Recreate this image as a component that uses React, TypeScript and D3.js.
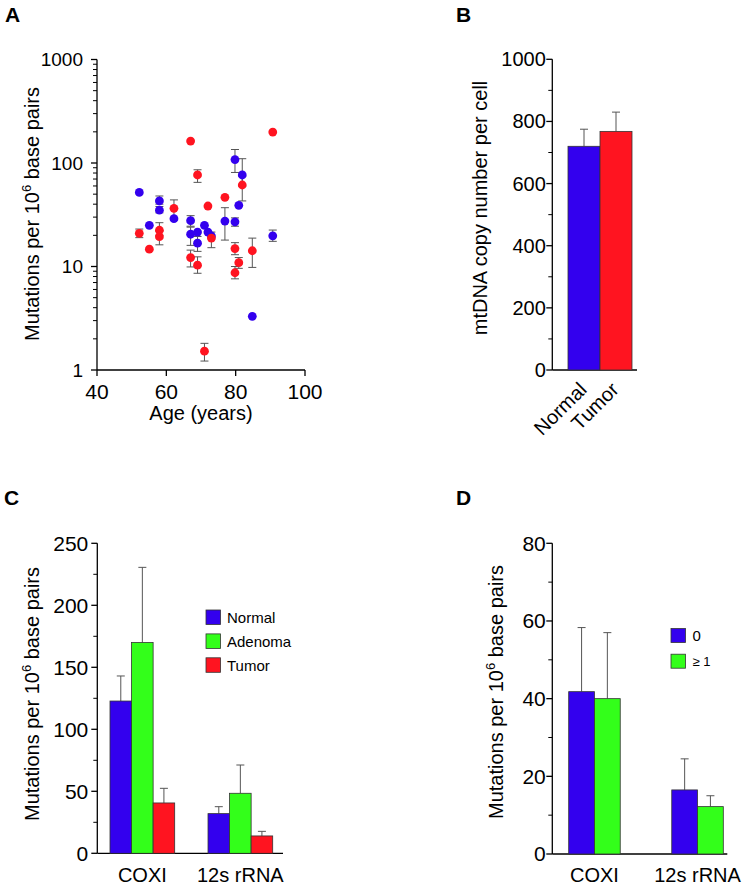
import React from "react";
import * as d3 from "d3";

// ---------- Panel A data ----------
const normalAge = [52.2, 55.1, 58, 58, 62.2, 67, 67, 69, 69, 71, 72, 73, 76.9, 79.8, 80.9, 79.8, 81.9, 84.8, 90.7];
const normalMut = [52, 25, 43, 35, 29, 27.7, 20.5, 21.5, 16.8, 25, 21.5, 19.7, 27.5, 27, 39, 108, 76.6, 3.3, 19.8];
const normalLo = [null, null, 40, 33, null, 24.5, 16, null, 14, null, null, null, 18, 24.5, null, 81, 60, null, 17.5];
const normalHi = [null, null, 48, 38, null, 31, 24, null, 19.5, null, null, null, 37, 29.5, null, 135, 110, null, 22.5];

const tumorAge = [52.2, 55.1, 58, 58, 62.2, 67, 67, 69, 69, 71, 72, 73, 76.9, 79.8, 79.8, 80.9, 81.9, 84.8, 90.7];
const tumorMut = [20.9, 14.7, 22.4, 19.4, 36.5, 12.2, 163, 10.3, 76.6, 1.52, 38.4, 18.8, 46.6, 14.9, 8.7, 10.9, 61.3, 14.2, 199];
const tumorLo = [19, null, 20, 16.2, 28.5, 9.9, null, 8.6, 65, 1.22, null, 15.2, null, 13, 7.6, 9.6, 43, 9.8, null];
const tumorHi = [23, null, 26.5, 22, 44, 14.4, null, 12.4, 86, 1.81, null, 21.5, null, 17, 10, 12.2, 75, 18.8, null];

const ageTicks = [40, 60, 80, 100];
const logTicks = [1, 10, 100, 1000];

// ---------- Panel B data ----------
const copyGroups = ["Normal", "Tumor"];
const copyMean = [720, 768];
const copyErr = [775, 830];
const copyTicks = [0, 200, 400, 600, 800, 1000];

// ---------- Panel C data ----------
const genes = ["COXI", "12s rRNA"];
const tissueGroups = ["Normal", "Adenoma", "Tumor"];
const cNormal = [122.8, 32];
const cAdenoma = [170, 48.4];
const cTumor = [40.6, 14];
const cNormalErr = [143, 37.6];
const cAdenomaErr = [230.6, 71.2];
const cTumorErr = [52.4, 17.7];
const cTicks = [0, 50, 100, 150, 200, 250];

// ---------- Panel D data ----------
const dGroups = ["0", "\u2265 1"];
const dZero = [41.8, 16.5];
const dOne = [40, 12.2];
const dZeroErr = [58.3, 24.5];
const dOneErr = [57, 15];
const dTicks = [0, 20, 40, 60, 80];

const BLUE = "#3300ee";
const RED = "#ff1420";
const GREEN = "#33ff1a";
const ERR = "#555";
const FONT = "'Liberation Sans', Arial, sans-serif";

function MutLabel({ x, y }: { x: number; y: number }) {
  return (
    <text transform={`translate(${x},${y}) rotate(-90)`} textAnchor="middle" fontSize={20} fontFamily={FONT}>
      Mutations per 10
      <tspan fontSize={13} dy={-8}>6</tspan>
      <tspan dy={8}> base pairs</tspan>
    </text>
  );
}

function YAxisLinear({ scale, x, ticks, minor, fs, gap }: { scale: any; x: number; ticks: number[]; minor: number[]; fs: number; gap: number }) {
  const [r0, r1] = scale.range();
  return (
    <g>
      <line x1={x} x2={x} y1={r0} y2={r1} stroke="#000" strokeWidth={1.3} />
      {minor.map((t) => (
        <line key={"m" + t} x1={x - 4} x2={x} y1={scale(t)} y2={scale(t)} stroke="#000" strokeWidth={1} />
      ))}
      {ticks.map((t) => (
        <g key={t}>
          <line x1={x - 6} x2={x} y1={scale(t)} y2={scale(t)} stroke="#000" strokeWidth={1.3} />
          <text x={x - gap} y={scale(t)} dy="0.35em" textAnchor="end" fontSize={fs} fontFamily={FONT}>
            {t}
          </text>
        </g>
      ))}
    </g>
  );
}

function ErrUp({ x, y0, y1 }: { x: number; y0: number; y1: number }) {
  return (
    <g stroke={ERR} strokeWidth={1}>
      <line x1={x} x2={x} y1={y0} y2={y1} />
      <line x1={x - 4} x2={x + 4} y1={y1} y2={y1} />
    </g>
  );
}

function PanelA() {
  const x = d3.scaleLinear().domain([40, 100]).range([97, 305]);
  const y = d3.scaleLog().domain([1, 1000]).range([370, 59.5]);
  const minor: number[] = [];
  [1, 10, 100].forEach((d) => {
    for (let k = 2; k <= 9; k++) minor.push(d * k);
  });
  const series = [
    { age: normalAge, v: normalMut, lo: normalLo, hi: normalHi, c: BLUE },
    { age: tumorAge, v: tumorMut, lo: tumorLo, hi: tumorHi, c: RED },
  ];
  return (
    <g>
      <text x={5} y={22} fontSize={21} fontWeight="bold" fontFamily={FONT}>A</text>
      <line x1={97} x2={97} y1={59.5} y2={370} stroke="#000" strokeWidth={1.3} />
      <line x1={97} x2={305} y1={370} y2={370} stroke="#000" strokeWidth={1.3} />
      {minor.map((t) => (
        <line key={"m" + t} x1={93} x2={97} y1={y(t)} y2={y(t)} stroke="#000" strokeWidth={1} />
      ))}
      {logTicks.map((t) => (
        <g key={t}>
          <line x1={91} x2={97} y1={y(t)} y2={y(t)} stroke="#000" strokeWidth={1.3} />
          <text x={83} y={y(t)} dy="0.35em" textAnchor="end" fontSize={19} fontFamily={FONT}>{t}</text>
        </g>
      ))}
      {ageTicks.map((t) => (
        <g key={t}>
          <line x1={x(t)} x2={x(t)} y1={370} y2={376} stroke="#000" strokeWidth={1.3} />
          <text x={x(t)} y={399} textAnchor="middle" fontSize={21} fontFamily={FONT}>{t}</text>
        </g>
      ))}
      <text x={201} y={420} textAnchor="middle" fontSize={20} fontFamily={FONT}>Age (years)</text>
      <MutLabel x={39} y={214} />
      {series.map((s, si) => (
        <g key={"e" + si} stroke={ERR} strokeWidth={1}>
          {s.age.map((a, i) =>
            s.lo[i] != null ? (
              <g key={i}>
                <line x1={x(a)} x2={x(a)} y1={y(s.lo[i] as number)} y2={y(s.hi[i] as number)} />
                <line x1={x(a) - 4} x2={x(a) + 4} y1={y(s.lo[i] as number)} y2={y(s.lo[i] as number)} />
                <line x1={x(a) - 4} x2={x(a) + 4} y1={y(s.hi[i] as number)} y2={y(s.hi[i] as number)} />
              </g>
            ) : null
          )}
        </g>
      ))}
      {series.map((s, si) => (
        <g key={"p" + si}>
          {s.age.map((a, i) => (
            <circle key={i} cx={x(a)} cy={y(s.v[i])} r={4.4} fill={s.c} />
          ))}
        </g>
      ))}
    </g>
  );
}

function PanelB() {
  const y = d3.scaleLinear().domain([0, 1000]).range([370, 59.3]);
  const x = d3.scaleBand().domain(copyGroups).range([568, 632]).padding(0);
  const colors = [BLUE, RED];
  return (
    <g>
      <text x={456} y={22} fontSize={21} fontWeight="bold" fontFamily={FONT}>B</text>
      <YAxisLinear scale={y} x={552.3} ticks={copyTicks} minor={[100, 300, 500, 700, 900]} fs={20} gap={6.5} />
      <line x1={552.3} x2={637} y1={370} y2={370} stroke="#000" strokeWidth={1.3} />
      {copyGroups.map((g, i) => (
        <g key={g}>
          <ErrUp x={(x(g) as number) + x.bandwidth() / 2} y0={y(copyMean[i])} y1={y(copyErr[i])} />
          <rect x={x(g)} y={y(copyMean[i])} width={x.bandwidth()} height={370 - y(copyMean[i])} fill={colors[i]} stroke="#333" strokeWidth={0.8} />
          <text
            transform={`translate(${(x(g) as number) + x.bandwidth() / 2 - 6},${381}) rotate(-45)`}
            textAnchor="end"
            dy="0.7em"
            fontSize={20}
            fontFamily={FONT}
          >
            {g}
          </text>
        </g>
      ))}
      <text transform={`translate(487,208) rotate(-90)`} textAnchor="middle" fontSize={20} fontFamily={FONT}>
        mtDNA copy number per cell
      </text>
    </g>
  );
}

function PanelC() {
  const y = d3.scaleLinear().domain([0, 250]).range([853.3, 543.3]);
  const x0 = d3.scaleBand().domain(genes).range([110, 272.7]).paddingInner(0.34);
  const x1 = d3.scaleBand().domain(tissueGroups).range([0, x0.bandwidth()]);
  const vals = [cNormal, cAdenoma, cTumor];
  const errs = [cNormalErr, cAdenomaErr, cTumorErr];
  const colors = [BLUE, GREEN, RED];
  return (
    <g>
      <text x={4} y={505} fontSize={21} fontWeight="bold" fontFamily={FONT}>C</text>
      <YAxisLinear scale={y} x={97.3} ticks={cTicks} minor={[25, 75, 125, 175, 225]} fs={21} gap={9} />
      <line x1={97.3} x2={283} y1={853.3} y2={853.3} stroke="#000" strokeWidth={1.3} />
      {genes.map((gname, gi) => (
        <g key={gname}>
          {tissueGroups.map((t, ti) => {
            const bx = (x0(gname) as number) + (x1(t) as number);
            return (
              <g key={t}>
                <ErrUp x={bx + x1.bandwidth() / 2} y0={y(vals[ti][gi])} y1={y(errs[ti][gi])} />
                <rect x={bx} y={y(vals[ti][gi])} width={x1.bandwidth()} height={853.3 - y(vals[ti][gi])} fill={colors[ti]} stroke="#333" strokeWidth={0.8} />
              </g>
            );
          })}
          <text x={(x0(gname) as number) + x0.bandwidth() / 2} y={882} textAnchor="middle" fontSize={20} fontFamily={FONT}>
            {gname}
          </text>
        </g>
      ))}
      {tissueGroups.map((t, i) => (
        <g key={t}>
          <rect x={206} y={610 + i * 23.9} width={14.5} height={14.5} fill={colors[i]} stroke="#333" strokeWidth={0.8} />
          <text x={227} y={617.5 + i * 23.9} dy="0.35em" fontSize={15} fontFamily={FONT}>{t}</text>
        </g>
      ))}
      <MutLabel x={39} y={694} />
    </g>
  );
}

function PanelD() {
  const y = d3.scaleLinear().domain([0, 80]).range([854, 543.3]);
  const x0 = d3.scaleBand().domain(genes).range([568.7, 723.3]).paddingInner(0.5);
  const x1 = d3.scaleBand().domain(dGroups).range([0, x0.bandwidth()]);
  const vals = [dZero, dOne];
  const errs = [dZeroErr, dOneErr];
  const colors = [BLUE, GREEN];
  return (
    <g>
      <text x={456} y={505} fontSize={21} fontWeight="bold" fontFamily={FONT}>D</text>
      <YAxisLinear scale={y} x={552.3} ticks={dTicks} minor={[10, 30, 50, 70]} fs={21} gap={6.5} />
      <line x1={552.3} x2={727.3} y1={854} y2={854} stroke="#000" strokeWidth={1.3} />
      {genes.map((gname, gi) => (
        <g key={gname}>
          {dGroups.map((t, ti) => {
            const bx = (x0(gname) as number) + (x1(t) as number);
            return (
              <g key={t}>
                <ErrUp x={bx + x1.bandwidth() / 2} y0={y(vals[ti][gi])} y1={y(errs[ti][gi])} />
                <rect x={bx} y={y(vals[ti][gi])} width={x1.bandwidth()} height={854 - y(vals[ti][gi])} fill={colors[ti]} stroke="#333" strokeWidth={0.8} />
              </g>
            );
          })}
          <text x={(x0(gname) as number) + x0.bandwidth() / 2} y={882} textAnchor="middle" fontSize={20} fontFamily={FONT}>
            {gname}
          </text>
        </g>
      ))}
      {dGroups.map((t, i) => (
        <g key={t}>
          <rect x={671} y={628.5 + i * 25.7} width={14.5} height={14} fill={colors[i]} stroke="#333" strokeWidth={0.8} />
          <text x={692.5} y={635.5 + i * 25.7} dy="0.35em" fontSize={i === 0 ? 15 : 13} fontFamily={FONT}>{t}</text>
        </g>
      ))}
      <MutLabel x={503} y={692} />
    </g>
  );
}

export default function App() {
  return (
    <svg width={742} height={885} style={{ position: "absolute", left: 0, top: 0, background: "#fff" }}>
      <rect width={742} height={885} fill="#fff" />
      <PanelA />
      <PanelB />
      <PanelC />
      <PanelD />
    </svg>
  );
}
